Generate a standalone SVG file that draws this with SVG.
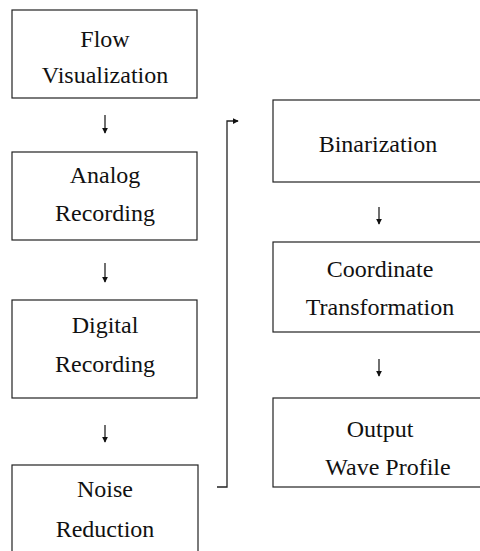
<svg xmlns="http://www.w3.org/2000/svg" width="480" height="551" viewBox="0 0 480 551">
<style>
.box{fill:#fff;stroke:#222;stroke-width:1.2}
.t{font-family:'Liberation Serif','Times New Roman','DejaVu Serif',serif;font-size:24px;fill:#111;text-anchor:middle}
.c{fill:none;stroke:#222;stroke-width:1.3}
</style>
<defs>
<marker id="ah" viewBox="0 0 8 8" refX="7" refY="4" markerWidth="6" markerHeight="6" orient="auto" markerUnits="userSpaceOnUse">
<path d="M0,0 L8,4 L0,8 z" fill="#111"/>
</marker>
</defs>
<rect width="480" height="551" fill="#fff"/>
<g id="flow-visualization">
<rect class="box" x="12" y="10" width="185" height="88"/>
<text class="t" x="105" y="47">Flow</text>
<text class="t" x="105" y="83">Visualization</text>
</g>
<g id="analog-recording">
<rect class="box" x="12" y="152" width="185" height="88"/>
<text class="t" x="105" y="183">Analog</text>
<text class="t" x="105" y="221">Recording</text>
</g>
<g id="digital-recording">
<rect class="box" x="12" y="300" width="185" height="98"/>
<text class="t" x="105" y="333">Digital</text>
<text class="t" x="105" y="372">Recording</text>
</g>
<g id="noise-reduction">
<rect class="box" x="12" y="465" width="186" height="100"/>
<text class="t" x="105" y="497">Noise</text>
<text class="t" x="105" y="537">Reduction</text>
</g>
<g id="binarization">
<rect class="box" x="273" y="100" width="215" height="82"/>
<text class="t" x="378" y="152">Binarization</text>
</g>
<g id="coordinate-transformation">
<rect class="box" x="273" y="242" width="215" height="90"/>
<text class="t" x="380" y="277">Coordinate</text>
<text class="t" x="380" y="315">Transformation</text>
</g>
<g id="output-wave-profile">
<rect class="box" x="273" y="398" width="215" height="89"/>
<text class="t" x="380" y="437">Output</text>
<text class="t" x="388" y="475">Wave Profile</text>
</g>
<g id="connectors">
<line class="c" x1="105" y1="115" x2="105" y2="133" marker-end="url(#ah)"/>
<line class="c" x1="105" y1="263" x2="105" y2="282" marker-end="url(#ah)"/>
<line class="c" x1="105" y1="425" x2="105" y2="442" marker-end="url(#ah)"/>
<line class="c" x1="379" y1="207" x2="379" y2="224" marker-end="url(#ah)"/>
<line class="c" x1="379" y1="359" x2="379" y2="376" marker-end="url(#ah)"/>
<path class="c" d="M217,487 H227 V121 H238" marker-end="url(#ah)"/>
</g>
</svg>
